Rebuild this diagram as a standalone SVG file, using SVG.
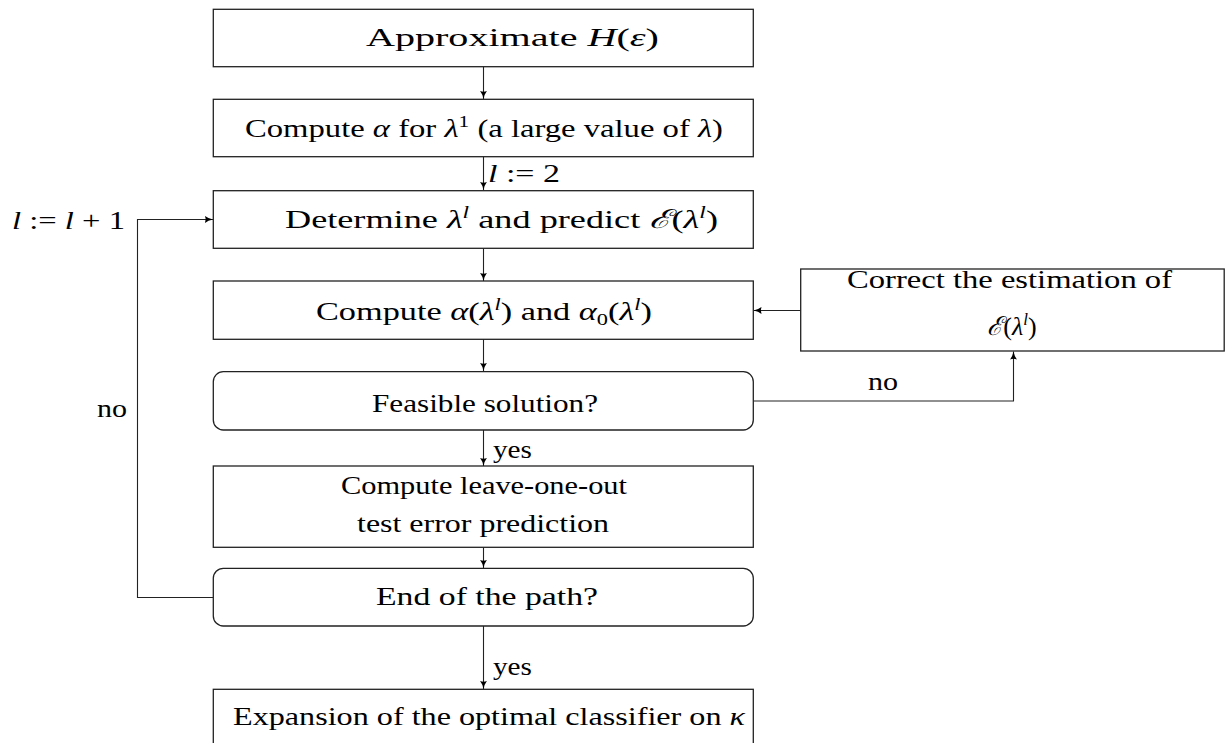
<svg xmlns="http://www.w3.org/2000/svg" width="1225" height="743" viewBox="0 0 1225 743">
<style>
text{font-family:"Liberation Serif","DejaVu Serif",serif;font-size:26px;fill:#000}
.i{font-style:italic}
.sup{font-size:17px}
.box{fill:#fff;stroke:#222;stroke-width:1.3}
.ln{fill:none;stroke:#222;stroke-width:1.1}
</style>
<defs>
<marker id="ah" markerUnits="userSpaceOnUse" markerWidth="10" markerHeight="8" refX="8" refY="4" orient="auto">
<path d="M0,0.6 Q3,3 8,4 Q3,5 0,7.4 Q1.5,4 0,0.6 z" fill="#000"/>
</marker>
</defs>
<rect width="1225" height="743" fill="#fff"/>
<g id="connectors">
<line class="ln" x1="483.5" y1="67" x2="483.5" y2="99" marker-end="url(#ah)"/>
<line class="ln" x1="483.5" y1="157" x2="483.5" y2="190" marker-end="url(#ah)"/>
<line class="ln" x1="483.5" y1="248" x2="483.5" y2="281" marker-end="url(#ah)"/>
<line class="ln" x1="483.5" y1="339" x2="483.5" y2="371" marker-end="url(#ah)"/>
<line class="ln" x1="483.5" y1="430" x2="483.5" y2="466" marker-end="url(#ah)"/>
<line class="ln" x1="483.5" y1="547" x2="483.5" y2="568" marker-end="url(#ah)"/>
<line class="ln" x1="483.5" y1="626" x2="483.5" y2="689" marker-end="url(#ah)"/>
<line class="ln" x1="800.5" y1="310.5" x2="753.5" y2="310.5" marker-end="url(#ah)"/>
<polyline class="ln" points="753.5,401 1013.5,401 1013.5,351.5" marker-end="url(#ah)"/>
<polyline class="ln" points="213,597.5 137.5,597.5 137.5,219.5 213,219.5" marker-end="url(#ah)"/>
<text x="488" y="181.7" textLength="72" lengthAdjust="spacingAndGlyphs"><tspan class="i">l</tspan> := 2</text>
<text x="493" y="458" textLength="39" lengthAdjust="spacingAndGlyphs">yes</text>
<text x="493" y="675" textLength="39" lengthAdjust="spacingAndGlyphs">yes</text>
<text x="868" y="390" textLength="30" lengthAdjust="spacingAndGlyphs">no</text>
<text x="97" y="417" textLength="30" lengthAdjust="spacingAndGlyphs">no</text>
<text x="12" y="229" textLength="113" lengthAdjust="spacingAndGlyphs"><tspan class="i">l</tspan> := <tspan class="i">l</tspan> + 1</text>
</g>
<g id="n1">
<rect class="box" x="213.3" y="9.3" width="540" height="57.4"/>
<text x="366" y="45.7" textLength="293" lengthAdjust="spacingAndGlyphs">Approximate <tspan class="i">H</tspan>(<tspan class="i">ε</tspan>)</text>
</g>
<g id="n2">
<rect class="box" x="213.3" y="99.3" width="540" height="57.4"/>
<text x="245" y="136.7" textLength="478" lengthAdjust="spacingAndGlyphs">Compute <tspan class="i">α</tspan> for <tspan class="i">λ</tspan><tspan class="sup" dy="-10">1</tspan><tspan dy="10"> (a large value of </tspan><tspan class="i">λ</tspan>)</text>
</g>
<g id="n3">
<rect class="box" x="213.3" y="190.7" width="540" height="57.6"/>
<text x="285" y="228" textLength="433" lengthAdjust="spacingAndGlyphs">Determine <tspan class="i">λ</tspan><tspan class="sup i" dy="-10">l</tspan><tspan dy="10"> and predict </tspan><tspan class="i">ℰ</tspan>(<tspan class="i">λ</tspan><tspan class="sup i" dy="-10">l</tspan><tspan dy="10">)</tspan></text>
</g>
<g id="n4">
<rect class="box" x="213.3" y="281" width="540" height="58.3"/>
<text x="316" y="320" textLength="336" lengthAdjust="spacingAndGlyphs">Compute <tspan class="i">α</tspan>(<tspan class="i">λ</tspan><tspan class="sup i" dy="-10">l</tspan><tspan dy="10">) and </tspan><tspan class="i">α</tspan><tspan class="sup" dy="5">0</tspan><tspan dy="-5">(</tspan><tspan class="i">λ</tspan><tspan class="sup i" dy="-10">l</tspan><tspan dy="10">)</tspan></text>
</g>
<g id="n5">
<rect class="box" x="213.3" y="371.7" width="540" height="58.3" rx="10"/>
<text x="372" y="411.7" textLength="226" lengthAdjust="spacingAndGlyphs">Feasible solution?</text>
</g>
<g id="n6">
<rect class="box" x="213.3" y="466" width="540" height="81.3"/>
<text x="341" y="494" textLength="286" lengthAdjust="spacingAndGlyphs">Compute leave-one-out</text>
<text x="357" y="531.7" textLength="252" lengthAdjust="spacingAndGlyphs">test error prediction</text>
</g>
<g id="n7">
<rect class="box" x="213.3" y="568.3" width="540" height="57.7" rx="10"/>
<text x="376" y="605" textLength="222" lengthAdjust="spacingAndGlyphs">End of the path?</text>
</g>
<g id="n8">
<rect class="box" x="213.3" y="689.3" width="540" height="60"/>
<text x="233" y="725" textLength="512" lengthAdjust="spacingAndGlyphs">Expansion of the optimal classifier on <tspan class="i">κ</tspan></text>
</g>
<g id="n9">
<rect class="box" x="800.7" y="269" width="423.5" height="82"/>
<text x="847" y="288" textLength="325" lengthAdjust="spacingAndGlyphs">Correct the estimation of</text>
<text x="1012" y="335" text-anchor="middle"><tspan class="i">ℰ</tspan>(<tspan class="i">λ</tspan><tspan class="sup i" dy="-10">l</tspan><tspan dy="10">)</tspan></text>
</g>
</svg>
